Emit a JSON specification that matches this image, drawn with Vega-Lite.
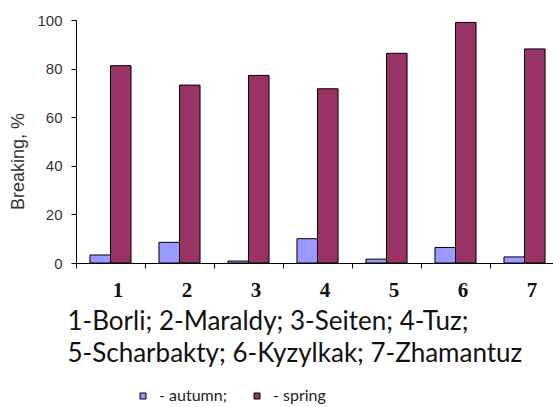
{
  "$schema": "https://vega.github.io/schema/vega-lite/v6.json",
  "width": 477,
  "height": 243,
  "autosize": {"type": "none"},
  "padding": {"left": 76, "top": 20, "right": 0, "bottom": 144},
  "background": "white",
  "config": {"view": {"stroke": null}},
  "data": {
    "values": [
      {"site": "1", "season": "autumn", "value": 3.3},
      {"site": "1", "season": "spring", "value": 81.2},
      {"site": "2", "season": "autumn", "value": 8.5},
      {"site": "2", "season": "spring", "value": 73.2},
      {"site": "3", "season": "autumn", "value": 0.8},
      {"site": "3", "season": "spring", "value": 77.2},
      {"site": "4", "season": "autumn", "value": 10.0},
      {"site": "4", "season": "spring", "value": 71.7},
      {"site": "5", "season": "autumn", "value": 1.6},
      {"site": "5", "season": "spring", "value": 86.3},
      {"site": "6", "season": "autumn", "value": 6.4},
      {"site": "6", "season": "spring", "value": 99.0},
      {"site": "7", "season": "autumn", "value": 2.5},
      {"site": "7", "season": "spring", "value": 88.1}
    ]
  },
  "mark": {"type": "bar", "stroke": "black", "strokeWidth": 1},
  "encoding": {
    "x": {
      "field": "site",
      "type": "ordinal",
      "scale": {"range": [0, 483], "paddingInner": 0, "paddingOuter": 0},
      "axis": {
        "title": ["1-Borli; 2-Maraldy; 3-Seiten; 4-Tuz;", "5-Scharbakty; 6-Kyzylkak; 7-Zhamantuz"],
        "labelAngle": 0,
        "tickBand": "extent",
        "domainColor": "black",
        "tickColor": "black",
        "tickSize": 5,
        "labelFont": "Liberation Serif",
        "labelFontWeight": "bold",
        "labelFontSize": 21,
        "labelColor": "#111",
        "labelPadding": 11,
        "labelOffset": 7,
        "titleFont": "Lato",
        "titleFontSize": 26,
        "titleFontWeight": "normal",
        "titleColor": "#111",
        "titleAnchor": "start",
        "titleAlign": "left",
        "titleBaseline": "top",
        "titleX": -9,
        "titleY": 45,
        "titleLineHeight": 32
      }
    },
    "xOffset": {"field": "season", "scale": {"paddingOuter": 0.68, "paddingInner": 0}},
    "y": {
      "field": "value",
      "type": "quantitative",
      "scale": {"domain": [0, 100]},
      "axis": {
        "values": [0, 20, 40, 60, 80, 100],
        "grid": false,
        "title": "Breaking, %",
        "domainColor": "black",
        "tickColor": "black",
        "tickSize": 5,
        "labelPadding": 9,
        "labelFont": "Liberation Sans",
        "labelFontSize": 15,
        "labelColor": "#333",
        "titleFont": "Liberation Sans",
        "titleFontSize": 18,
        "titleFontWeight": "normal",
        "titleColor": "#333",
        "titleX": -49,
        "titleY": 141
      }
    },
    "color": {
      "field": "season",
      "type": "nominal",
      "scale": {"domain": ["autumn", "spring"], "range": ["#9999ff", "#993366"]},
      "legend": {
        "orient": "none",
        "legendX": 59,
        "legendY": 368,
        "direction": "horizontal",
        "title": null,
        "symbolType": "square",
        "symbolSize": 36,
        "symbolStrokeColor": "black",
        "symbolStrokeWidth": 1,
        "symbolOpacity": 1,
        "labelFont": "Lato",
        "labelFontSize": 16,
        "labelColor": "#222",
        "labelExpr": "datum.label == 'autumn' ? '- autumn;' : '- spring'",
        "columnPadding": 22,
        "labelOffset": 8
      }
    }
  }
}
